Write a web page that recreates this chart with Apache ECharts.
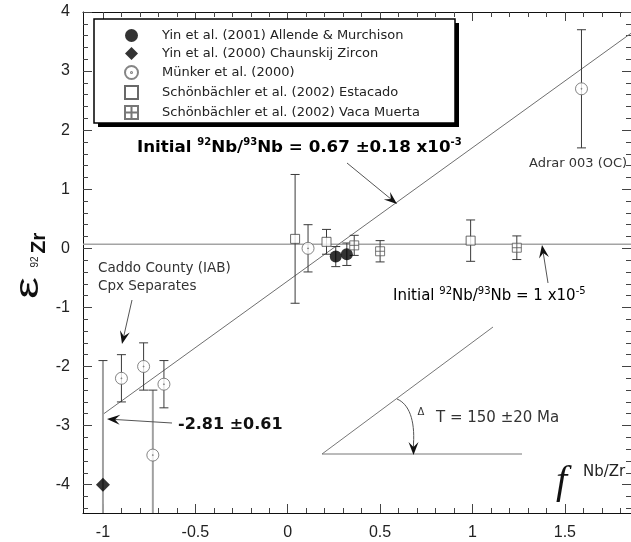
<!DOCTYPE html>
<html>
<head>
<meta charset="utf-8">
<script src="https://cdn.jsdelivr.net/npm/echarts@6/dist/echarts.min.js"></script>
<style>
  html, body { margin: 0; padding: 0; background: #fff; }
  #chart { width: 631px; height: 542px; }
</style>
</head>
<body>
<div id="chart"></div>
<script>
// Nb–Zr isochron diagram: epsilon 92Zr against f(Nb/Zr)

// axis ticks
const xMajor = [-1, -0.5, 0, 0.5, 1, 1.5];
const yMajor = [-4, -3, -2, -1, 0, 1, 2, 3, 4];

// Yin et al. (2001) Allende & Murchison
const yin2001F = [0.26, 0.32];
const yin2001E = [-0.14, -0.10];
const yin2001Err = [0.17, 0.19];

// Yin et al. (2000) Chaunskij Zircon
const yin2000F = [-1.0];
const yin2000E = [-4.0];
const yin2000Err = [2.1];

// Münker et al. (2000)
const munkerF = [-0.90, -0.78, -0.73, -0.67, 0.11, 1.59];
const munkerE = [-2.2, -2.0, -3.5, -2.3, 0.0, 2.7];
const munkerErr = [0.4, 0.4, 1.1, 0.4, 0.4, 1.0];

// Schönbächler et al. (2002) Estacado
const estacadoF = [0.04, 0.21, 0.99];
const estacadoE = [0.16, 0.11, 0.13];
const estacadoErr = [1.09, 0.21, 0.35];

// Schönbächler et al. (2002) Vaca Muerta
const vacaF = [0.36, 0.50, 1.24];
const vacaE = [0.05, -0.05, 0.01];
const vacaErr = [0.17, 0.18, 0.20];

// isochron (initial 92Nb/93Nb = 0.67e-3) and reference line (1e-5)
const isochronF = [-1.0, 1.858];
const isochronE = [-2.81, 3.64];
const refF = [-1.108, 1.858];
const refE = [0.07, 0.07];

const names = [
  'Yin et al. (2001) Allende & Murchison',
  'Yin et al. (2000) Chaunskij Zircon',
  'Münker et al. (2000)',
  'Schönbächler et al. (2002) Estacado',
  'Schönbächler et al. (2002) Vaca Muerta'
];

const X_MIN = -1.108, X_MAX = 1.858, Y_MIN = -4.48, Y_MAX = 4;

function minorTicks(lo, hi, step, majors) {
  const out = [];
  const n = Math.round((hi - lo) / step);
  for (let i = 0; i <= n; i++) {
    const v = Math.round((lo + i * step) * 100) / 100;
    if (!majors.some(m => Math.abs(m - v) < 1e-6)) out.push(v);
  }
  return out;
}
const xMinor = minorTicks(-1.0, 1.8, 0.1, xMajor);
const yMinor = minorTicks(-4.4, 3.8, 0.2, yMajor);

const FONT = 'Liberation Sans, Arial, sans-serif';
const TFONT = 'DejaVu Sans, sans-serif';
const AXIS_COLOR = '#111';
const TICK_COLOR = '#444';

function pts(fs, es) { return fs.map((f, i) => [f, es[i]]); }

function errorSeries(fs, es, errs) {
  return {
    type: 'custom',
    silent: true,
    clip: true,
    z: 2,
    data: fs.map((f, i) => [f, es[i] - errs[i], es[i] + errs[i]]),
    encode: { x: 0, y: [1, 2] },
    renderItem(params, api) {
      const x = api.value(0);
      const lowV = api.value(1);
      const lo = api.coord([x, lowV]);
      const hi = api.coord([x, api.value(2)]);
      const runsOff = lowV < Y_MIN;
      const stem = runsOff ? '#a0a0a0' : '#3a3a3a';
      const cap = 4.5;
      return {
        type: 'group',
        children: [
          { type: 'line', shape: { x1: lo[0], y1: lo[1], x2: hi[0], y2: hi[1] },
            style: { stroke: stem, lineWidth: runsOff ? 2 : 1 } },
          { type: 'line', shape: { x1: hi[0] - cap, y1: hi[1], x2: hi[0] + cap, y2: hi[1] },
            style: { stroke: '#3a3a3a', lineWidth: 1 } },
          { type: 'line', shape: { x1: lo[0] - cap, y1: lo[1], x2: lo[0] + cap, y2: lo[1] },
            style: { stroke: '#3a3a3a', lineWidth: 1 } }
        ]
      };
    }
  };
}

function xAxisDef(pos, ticks, len, labels, line) {
  return {
    type: 'value', position: pos, min: X_MIN, max: X_MAX,
    axisLine: { show: line, onZero: false, lineStyle: { color: AXIS_COLOR, width: 1 } },
    axisTick: { show: true, inside: true, length: len, customValues: ticks,
                lineStyle: { color: TICK_COLOR, width: 1 } },
    axisLabel: labels ? { show: true, customValues: ticks, margin: 12, fontSize: 16,
                          fontFamily: FONT, color: '#222' } : { show: false },
    splitLine: { show: false }
  };
}
function yAxisDef(pos, ticks, len, labels, line) {
  return {
    type: 'value', position: pos, min: Y_MIN, max: Y_MAX,
    axisLine: { show: line, onZero: false, lineStyle: { color: AXIS_COLOR, width: 1 } },
    axisTick: { show: true, inside: true, length: len, customValues: ticks,
                lineStyle: { color: TICK_COLOR, width: 1 } },
    axisLabel: labels ? { show: true, customValues: ticks, margin: 13, fontSize: 16,
                          fontFamily: FONT, color: '#222' } : { show: false },
    splitLine: { show: false }
  };
}

// stealth-style arrow: shaft plus notched head, in pixel space
function arrow(x1, y1, x2, y2, z) {
  const dx = x2 - x1, dy = y2 - y1, d = Math.hypot(dx, dy);
  const ux = dx / d, uy = dy / d, nx = -uy, ny = ux;
  const L = 13, W = 5, N = 8;
  const bx = x2 - ux * L, by = y2 - uy * L;
  const notchX = x2 - ux * N, notchY = y2 - uy * N;
  return [
    { type: 'line', z: z, silent: true,
      shape: { x1: x1, y1: y1, x2: notchX, y2: notchY },
      style: { stroke: '#555', lineWidth: 1 } },
    { type: 'polygon', z: z, silent: true,
      shape: { points: [[x2, y2], [bx + nx * W, by + ny * W], [notchX, notchY], [bx - nx * W, by - ny * W]] },
      style: { fill: '#111' } }
  ];
}

const supStyle = (size, bold) => ({
  fontSize: size, fontFamily: TFONT, fontWeight: bold ? 'bold' : 'normal',
  color: bold ? '#111' : '#333', lineHeight: 12, verticalAlign: 'top'
});

function label(x, y, text, size, opts) {
  opts = opts || {};
  return { type: 'text', z: 20, x: x, y: y, silent: true,
    style: { text: text, fontSize: size, fontFamily: opts.family || TFONT,
             fontWeight: opts.bold ? 'bold' : 'normal', fill: opts.color || '#333',
             align: opts.align || 'left', verticalAlign: 'middle' } };
}

const graphics = [
  // legend frame with drop shadow
  { type: 'rect', z: 15, silent: true, shape: { x: 98, y: 23, width: 361, height: 104 }, style: { fill: '#000' } },
  { type: 'rect', z: 16, silent: true, shape: { x: 94, y: 19, width: 361, height: 104 },
    style: { fill: '#fff', stroke: '#000', lineWidth: 1.5 } },

  // y axis title, written bottom-to-top
  { type: 'text', z: 20, x: 29, y: 288, rotation: Math.PI / 2, scaleX: 1.45, silent: true,
    style: { text: 'ε', fontSize: 34, fontFamily: FONT, fill: '#111', align: 'center', verticalAlign: 'middle' } },
  { type: 'text', z: 20, x: 35, y: 262, rotation: Math.PI / 2, silent: true,
    style: { text: '92', fontSize: 10, fontFamily: FONT, fill: '#222', align: 'center', verticalAlign: 'middle' } },
  { type: 'text', z: 20, x: 39, y: 243, rotation: Math.PI / 2, silent: true,
    style: { text: 'Zr', fontSize: 21, fontWeight: 'bold', fontFamily: FONT, fill: '#111', align: 'center', verticalAlign: 'middle' } },

  // x axis title
  { type: 'text', z: 20, x: 556, y: 482, silent: true,
    style: { text: 'f', font: 'italic 40px "Liberation Serif", serif', fill: '#111',
             align: 'left', verticalAlign: 'middle' } },
  label(583, 472, 'Nb/Zr', 15, { color: '#222' }),

  // isochron label
  { type: 'text', z: 20, x: 137, y: 148, silent: true,
    style: {
      text: '{b|Initial }{s|92}{b|Nb/}{s|93}{b|Nb = 0.67 ±0.18 x10}{s|-3}',
      verticalAlign: 'middle', align: 'left',
      rich: {
        b: { fontSize: 16.7, fontFamily: TFONT, fontWeight: 'bold', color: '#111', lineHeight: 22 },
        s: supStyle(10, true)
      }
    } },

  // reference line label
  { type: 'text', z: 20, x: 393, y: 296, silent: true,
    style: {
      text: '{n|Initial }{s|92}{n|Nb/}{s|93}{n|Nb = 1 x10}{s|-5}',
      verticalAlign: 'middle', align: 'left',
      rich: {
        n: { fontSize: 15, fontFamily: TFONT, color: '#333', lineHeight: 20 },
        s: supStyle(10, false)
      }
    } },

  label(529, 164, 'Adrar 003 (OC)', 13),
  label(98, 268, 'Caddo County (IAB)', 13.5),
  label(98, 286, 'Cpx Separates', 13.5),
  label(178, 425, '-2.81 ±0.61', 16, { bold: true, color: '#111' }),

  // age triangle
  { type: 'line', z: 20, silent: true, shape: { x1: 322, y1: 454, x2: 493, y2: 327 },
    style: { stroke: '#777', lineWidth: 1 } },
  { type: 'line', z: 20, silent: true, shape: { x1: 322, y1: 454, x2: 522, y2: 454 },
    style: { stroke: '#777', lineWidth: 1 } },
  { type: 'bezierCurve', z: 20, silent: true,
    shape: { x1: 397, y1: 399, cpx1: 409, cpy1: 404, cpx2: 415, cpy2: 420, x2: 413.5, y2: 444 },
    style: { stroke: '#555', lineWidth: 1, fill: null } },
  label(421, 412, 'Δ', 10, { align: 'center' }),
  label(436, 418, 'T = 150 ±20 Ma', 15)
]
  .concat(arrow(347, 163, 397, 204, 20))
  .concat(arrow(132, 300, 122, 344, 20))
  .concat(arrow(172, 423, 107, 419, 20))
  .concat(arrow(548, 283, 542, 245, 20))
  .concat(arrow(413.5, 441, 413.5, 455, 20));

const circleDot = 'path://M10,0A10,10,0,1,1,-10,0A10,10,0,1,1,10,0ZM0.8,0A0.8,0.8,0,1,1,-0.8,0A0.8,0.8,0,1,1,0.8,0Z';
const boxPlus = 'path://M0,0H10V10H0ZM5,0V10M0,5H10';

const option = {
  animation: false,
  backgroundColor: '#fff',
  grid: { left: 83, top: 12, width: 550, height: 501, containLabel: false },
  xAxis: [
    xAxisDef('bottom', xMajor, 9, true, true),
    xAxisDef('bottom', xMinor, 5, false, false),
    xAxisDef('top', xMajor, 9, false, true),
    xAxisDef('top', xMinor, 5, false, false)
  ],
  yAxis: [
    yAxisDef('left', yMajor, 9, true, true),
    yAxisDef('left', yMinor, 5, false, false),
    yAxisDef('right', yMajor, 9, false, true),
    yAxisDef('right', yMinor, 5, false, false)
  ],
  legend: {
    data: names, orient: 'vertical', left: 124, top: 29, z: 30, padding: 0,
    itemWidth: 13, itemHeight: 13, itemGap: 5, selectedMode: false,
    textStyle: { fontFamily: TFONT, fontSize: 13, color: '#222', padding: [0, 0, 0, 19] }
  },
  graphic: { elements: graphics },
  series: [
    { type: 'line', silent: true, z: 1, data: pts(refF, refE), symbol: 'none',
      lineStyle: { color: '#a4a4a4', width: 1.5 } },
    { type: 'line', silent: true, z: 1, data: pts(isochronF, isochronE), symbol: 'none',
      lineStyle: { color: '#6f6f6f', width: 1 } },

    errorSeries(yin2001F, yin2001E, yin2001Err),
    errorSeries(yin2000F, yin2000E, yin2000Err),
    errorSeries(munkerF, munkerE, munkerErr),
    errorSeries(estacadoF, estacadoE, estacadoErr),
    errorSeries(vacaF, vacaE, vacaErr),

    { name: names[0], type: 'scatter', z: 5, data: pts(yin2001F, yin2001E),
      symbol: 'circle', symbolSize: 12, itemStyle: { color: '#000' } },
    { name: names[1], type: 'scatter', z: 5, data: pts(yin2000F, yin2000E),
      symbol: 'diamond', symbolSize: 14, itemStyle: { color: '#000' } },
    { name: names[2], type: 'scatter', z: 5, data: pts(munkerF, munkerE),
      symbol: circleDot, symbolSize: 12, symbolKeepAspect: true,
      itemStyle: { color: '#fff', borderColor: '#666', borderWidth: 1 } },
    { name: names[3], type: 'scatter', z: 5, data: pts(estacadoF, estacadoE),
      symbol: 'rect', symbolSize: 9,
      itemStyle: { color: '#fff', borderColor: '#444', borderWidth: 1 } },
    { name: names[4], type: 'scatter', z: 5, data: pts(vacaF, vacaE),
      symbol: boxPlus, symbolSize: 9, symbolKeepAspect: true,
      itemStyle: { color: '#fff', borderColor: '#555', borderWidth: 1 } }
  ]
};

const chart = echarts.init(document.getElementById('chart'), null, { renderer: 'canvas' });
chart.setOption(option);
</script>
</body>
</html>
